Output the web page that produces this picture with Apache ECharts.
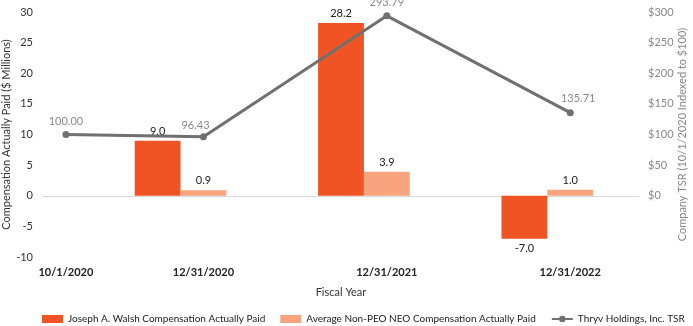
<!DOCTYPE html>
<html>
<head>
<meta charset="utf-8">
<script src="https://cdn.jsdelivr.net/npm/echarts@6/dist/echarts.min.js"></script>
<style>
html,body{margin:0;padding:0;background:#fff;}
#chart{width:693px;height:326px;}
</style>
</head>
<body>
<div id="chart"></div>
<script>
// ---- data ----
const periods = ['10/1/2020', '12/31/2020', '12/31/2021', '12/31/2022'];
const walshCAP = [null, 9.0, 28.2, -7.0];      // $ millions
const neoCAP = [null, 0.9, 3.9, 1.0];          // $ millions
const tsr = [100.00, 96.43, 293.79, 135.71];   // indexed to $100
const leftTicks = [-10, 30, 5];
const rightTicks = [-100, 300, 50];
const seriesNames = ['Joseph A. Walsh Compensation Actually Paid', 'Average Non-PEO NEO Compensation Actually Paid', 'Thryv Holdings, Inc. TSR'];

// ---- layout (not data) ----
const SLOTS = 13;
const periodSlot = [0, 3, 7, 11];
const tsrLabelOffset = [[0, 0], [-8, 2], [0, 0], [8, -1]];

const cats = new Array(SLOTS).fill('');
const walshData = new Array(SLOTS).fill(null);
const neoData = new Array(SLOTS).fill(null);
const tsrData = new Array(SLOTS).fill(null);
periods.forEach((p, i) => {
  const s = periodSlot[i];
  cats[s] = p;
  if (walshCAP[i] !== null) {
    walshData[s - 1] = { value: walshCAP[i], label: { position: walshCAP[i] < 0 ? 'bottom' : 'top' } };
  }
  if (neoCAP[i] !== null) {
    neoData[s] = { value: neoCAP[i], label: { position: neoCAP[i] < 0 ? 'bottom' : 'top' } };
  }
  tsrData[s] = { value: tsr[i], label: { offset: tsrLabelOffset[i] } };
});

const FONT = 'Lato, "Open Sans", sans-serif';
const chart = echarts.init(document.getElementById('chart'), null, { renderer: 'canvas' });
chart.setOption({
  animation: false,
  textStyle: { fontFamily: FONT },
  grid: { left: 43, right: 54, top: 12, bottom: 69, containLabel: false, outerBoundsMode: 'none' },
  legend: {
    left: 42, top: 314, width: 660, padding: 0,
    itemWidth: 21, itemHeight: 8, itemGap: 15,
    textStyle: { fontFamily: FONT, fontSize: 10, color: '#222' },
    data: [
      { name: seriesNames[0], icon: 'rect' },
      { name: seriesNames[1], icon: 'rect' },
      { name: seriesNames[2] }
    ]
  },
  xAxis: {
    type: 'category',
    data: cats,
    boundaryGap: true,
    axisLine: { show: true, onZero: true, lineStyle: { color: '#d9d9d9', width: 1 } },
    axisTick: { show: false },
    axisLabel: {
      interval: 0, margin: 10,
      fontFamily: FONT, fontSize: 11, fontWeight: 'bold', color: '#222'
    },
    name: 'Fiscal Year',
    nameLocation: 'middle',
    nameGap: 30,
    nameTextStyle: { fontFamily: FONT, fontSize: 11, color: '#333' }
  },
  yAxis: [
    {
      type: 'value',
      min: leftTicks[0], max: leftTicks[1], interval: leftTicks[2],
      splitLine: { show: false },
      axisLine: { show: false },
      axisTick: { show: false },
      axisLabel: { margin: 10, fontFamily: FONT, fontSize: 11, color: '#333' },
      name: 'Compensation Actually Paid ($ Millions)',
      nameLocation: 'middle',
      nameRotate: 90,
      nameGap: 31,
      nameMoveOverlap: false,
      nameTextStyle: { fontFamily: FONT, fontSize: 11, color: '#333' }
    },
    {
      type: 'value',
      min: rightTicks[0], max: rightTicks[1], interval: rightTicks[2],
      position: 'right',
      splitLine: { show: false },
      axisLine: { show: false },
      axisTick: { show: false },
      axisLabel: {
        margin: 9, fontFamily: FONT, fontSize: 11, color: '#888',
        formatter: v => (v < 0 ? '' : '$' + v)
      },
      name: 'Company TSR (10/1/2020 Indexed to $100)',
      nameLocation: 'middle',
      nameRotate: 90,
      nameGap: 38,
      nameMoveOverlap: false,
      nameTextStyle: { fontFamily: FONT, fontSize: 11, color: '#888' }
    }
  ],
  series: [
    {
      name: seriesNames[0],
      type: 'bar',
      data: walshData,
      barWidth: '100%',
      barGap: '-100%',
      itemStyle: { color: '#F05424' },
      label: { show: true, fontFamily: FONT, fontSize: 11, color: '#222', distance: 4,
        formatter: p => p.value.toFixed(1) }
    },
    {
      name: seriesNames[1],
      type: 'bar',
      data: neoData,
      barWidth: '100%',
      barGap: '-100%',
      itemStyle: { color: '#F8A47F' },
      label: { show: true, fontFamily: FONT, fontSize: 11, color: '#222', distance: 4,
        formatter: p => p.value.toFixed(1) }
    },
    {
      name: seriesNames[2],
      type: 'line',
      yAxisIndex: 1,
      data: tsrData,
      connectNulls: true,
      symbol: 'circle',
      symbolSize: 7,
      lineStyle: { color: '#707070', width: 3 },
      itemStyle: { color: '#707070' },
      label: { show: true, position: 'top', distance: 4, fontFamily: FONT, fontSize: 11, color: '#8a8a8a',
        formatter: p => p.value.toFixed(2) },
      z: 5
    }
  ]
});
</script>
</body>
</html>
